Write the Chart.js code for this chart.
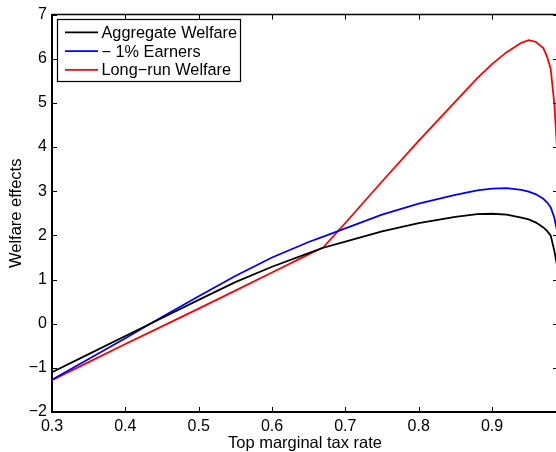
<!DOCTYPE html>
<html>
<head>
<meta charset="utf-8">
<script src="https://cdn.jsdelivr.net/npm/chart.js@4.4.0/dist/chart.umd.min.js"></script>
<style>
  html, body { margin: 0; padding: 0; background: #fff; overflow: hidden; }
  #wrap { position: relative; width: 560px; height: 452px; }
</style>
</head>
<body>
<div id="wrap"><canvas id="welfareChart" width="560" height="452"></canvas></div>
<script>
// Data
const taxRates = [0.30, 0.35, 0.40, 0.45, 0.50, 0.55, 0.60, 0.65, 0.67, 0.70, 0.75, 0.80, 0.85, 0.88, 0.90, 0.92, 0.94, 0.95, 0.96, 0.97, 0.975, 0.98, 0.985, 0.99];
const aggregateWelfare = [-1.10, -0.69, -0.28, 0.13, 0.54, 0.94, 1.29, 1.60, 1.72, 1.86, 2.09, 2.28, 2.42, 2.48, 2.49, 2.47, 2.40, 2.36, 2.29, 2.18, 2.10, 2.00, 1.65, 1.20];
const topEarners = [-1.27, -0.80, -0.33, 0.15, 0.62, 1.08, 1.50, 1.85, 1.97, 2.16, 2.47, 2.72, 2.92, 3.02, 3.06, 3.07, 3.03, 2.99, 2.93, 2.83, 2.75, 2.64, 2.40, 2.00];
const longRunWelfare = [-1.28, -0.87, -0.46, -0.06, 0.34, 0.75, 1.16, 1.57, 1.73, 2.28, 3.22, 4.14, 5.03, 5.56, 5.88, 6.15, 6.36, 6.42, 6.38, 6.24, 6.05, 5.77, 4.98, 3.60];

const seriesLabels = ["Aggregate Welfare", "\u2212 1% Earners", "Long\u2212run Welfare"];
const seriesColors = ["#000000", "#0000ff", "#ff0000"];

const xTicks = [0.3, 0.4, 0.5, 0.6, 0.7, 0.8, 0.9];
const yTicks = [-2, -1, 0, 1, 2, 3, 4, 5, 6, 7];

const FONT = "'Liberation Sans', Arial, Helvetica, sans-serif";

function toPoints(ys) {
  return taxRates.map((x, i) => ({ x: x, y: ys[i] }));
}

// Matlab style box: top/right lines, inward ticks, legend in the corner
const matlabBox = {
  id: "matlabBox",
  afterDraw(chart) {
    const ctx = chart.ctx;
    const a = chart.chartArea;
    const xs = chart.scales.x;
    const ys = chart.scales.y;
    const tl = 5;
    ctx.save();
    ctx.strokeStyle = "#000";
    ctx.lineWidth = 1.5;
    ctx.beginPath();
    ctx.moveTo(a.left, a.top);
    ctx.lineTo(a.right, a.top);
    ctx.moveTo(a.right, a.top);
    ctx.lineTo(a.right, a.bottom);
    ctx.stroke();
    ctx.lineWidth = 1;
    ctx.beginPath();
    xTicks.forEach(v => {
      const px = Math.round(xs.getPixelForValue(v)) + 0.5;
      ctx.moveTo(px, a.bottom);
      ctx.lineTo(px, a.bottom - tl);
      ctx.moveTo(px, a.top);
      ctx.lineTo(px, a.top + tl);
    });
    yTicks.forEach(v => {
      const py = Math.round(ys.getPixelForValue(v)) + 0.5;
      ctx.moveTo(a.left, py);
      ctx.lineTo(a.left + tl, py);
      ctx.moveTo(a.right, py);
      ctx.lineTo(a.right - tl, py);
    });
    ctx.stroke();

    // legend
    const lx = 57.5, ly = 19.5, lw = 183, lh = 62;
    ctx.fillStyle = "#fff";
    ctx.fillRect(lx, ly, lw, lh);
    ctx.lineWidth = 1.2;
    ctx.strokeRect(lx, ly, lw, lh);
    ctx.font = "16.3px " + FONT;
    ctx.textBaseline = "middle";
    chart.data.datasets.forEach((ds, i) => {
      const ry = 32.3 + i * 18.8;
      ctx.strokeStyle = ds.borderColor;
      ctx.lineWidth = 1.8;
      ctx.beginPath();
      ctx.moveTo(65, ry);
      ctx.lineTo(98, ry);
      ctx.stroke();
      ctx.fillStyle = "#000";
      ctx.fillText(ds.label, 101.5, ry + 1);
    });
    ctx.restore();
  }
};

new Chart(document.getElementById("welfareChart"), {
  type: "line",
  data: {
    datasets: [
      { label: seriesLabels[0], data: toPoints(aggregateWelfare), borderColor: seriesColors[0] },
      { label: seriesLabels[1], data: toPoints(topEarners), borderColor: seriesColors[1] },
      { label: seriesLabels[2], data: toPoints(longRunWelfare), borderColor: seriesColors[2] }
    ]
  },
  options: {
    responsive: false,
    animation: false,
    devicePixelRatio: 1,
    layout: { padding: { top: 13, right: 2, left: 0, bottom: 0 } },
    elements: {
      point: { radius: 0 },
      line: { borderWidth: 1.8, tension: 0 }
    },
    plugins: {
      legend: { display: false },
      tooltip: { enabled: false }
    },
    scales: {
      x: {
        type: "linear",
        min: 0.3,
        max: 0.99,
        afterBuildTicks: s => { s.ticks = xTicks.map(v => ({ value: v })); },
        afterFit: s => { s.height = 40; },
        grid: { display: false, drawTicks: false },
        border: { display: true, color: "#000", width: 2 },
        ticks: {
          color: "#000",
          padding: 5,
          maxRotation: 0,
          font: { family: FONT, size: 16 },
          callback: v => v.toFixed(1)
        },
        title: {
          display: true,
          text: "Top marginal tax rate",
          color: "#000",
          padding: { top: 0, bottom: 0 },
          font: { family: FONT, size: 16.5, lineHeight: 1 }
        }
      },
      y: {
        min: -2,
        max: 7,
        afterBuildTicks: s => { s.ticks = yTicks.map(v => ({ value: v })); },
        afterFit: s => { s.width = 52; },
        grid: { display: false, drawTicks: false },
        border: { display: true, color: "#000", width: 2 },
        ticks: {
          color: "#000",
          padding: 5,
          font: { family: FONT, size: 16 },
          callback: v => String(v).replace("-", "\u2212")
        },
        title: {
          display: true,
          text: "Welfare effects",
          color: "#000",
          padding: { top: 8.4, bottom: 0 },
          font: { family: FONT, size: 16.5, lineHeight: 1 }
        }
      }
    }
  },
  plugins: [matlabBox]
});
</script>
</body>
</html>
